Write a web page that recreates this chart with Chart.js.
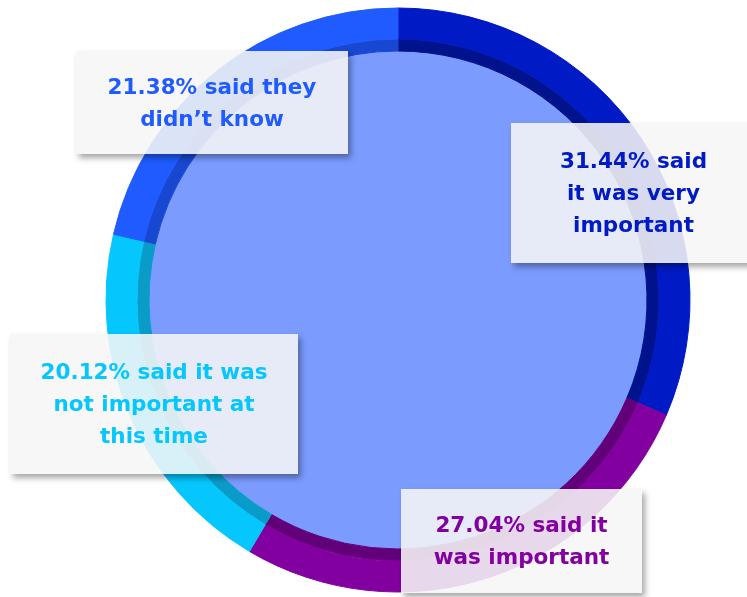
<!DOCTYPE html>
<html>
<head>
<meta charset="utf-8">
<script src="https://cdn.jsdelivr.net/npm/chart.js@4"></script>
<style>
  html, body { margin: 0; padding: 0; background: #fff; }
  #wrap { position: relative; width: 747px; height: 597px; overflow: hidden; }
  canvas { position: absolute; left: 0; top: 0; }
  .note {
    position: absolute;
    box-sizing: border-box;
    background: rgba(246, 246, 246, 0.88);
    box-shadow: 3px 4px 6px rgba(0, 0, 0, 0.35);
    font-family: "DejaVu Sans", sans-serif;
    font-weight: 700;
    font-size: 21.5px;
    line-height: 32px;
    text-align: center;
    display: flex;
    align-items: center;
    justify-content: center;
  }
</style>
</head>
<body>
<div id="wrap">
  <canvas id="ring" width="747" height="597"></canvas>
</div>
<script>
// answers, clockwise from 12 o'clock
const labels = ['said it was very important', 'said it was important', 'said it was not important at this time', "said they didn't know"];
const shares = [31.44, 27.04, 20.12, 21.38];
const ringColors = ['#001BC6', '#82009F', '#05C6FD', '#1F5BFF'];
const shadeColors = ['#00138C', '#62007A', '#0A9CC8', '#1848D2'];

// label boxes (text lines as shown on the picture)
const notes = [
  { lines: ['31.44% said', 'it was very', 'important'], color: ringColors[0], box: [511, 123, 245, 140] },
  { lines: ['27.04% said it', 'was important'], color: ringColors[1], box: [401, 489, 241, 104] },
  { lines: ['20.12% said it was', 'not important at', 'this time'], color: ringColors[2], box: [10, 334, 288, 140] },
  { lines: ['21.38% said they', 'didn\u2019t know'], color: ringColors[3], box: [76, 51, 272, 103] },
];

// fills the hole of the doughnut
const innerFill = {
  id: 'innerFill',
  beforeDatasetsDraw(chart) {
    const arc = chart.getDatasetMeta(1).data[0];
    if (!arc) return;
    const ctx = chart.ctx;
    ctx.save();
    ctx.beginPath();
    ctx.arc(arc.x, arc.y, arc.innerRadius + 0.5, 0, Math.PI * 2);
    ctx.fillStyle = '#7B9BFF';
    ctx.fill();
    ctx.restore();
  }
};

new Chart(document.querySelector('#ring').getContext('2d'), {
  type: 'doughnut',
  data: {
    labels: labels,
    datasets: [
      {
        data: shares,
        backgroundColor: ringColors,
        borderColor: ringColors,
        borderWidth: 1,
        weight: 31
      },
      {
        data: shares,
        backgroundColor: shadeColors,
        borderColor: shadeColors,
        borderWidth: 1,
        weight: 12
      }
    ]
  },
  options: {
    responsive: false,
    animation: false,
    radius: 292,
    cutout: '85.27%',
    layout: { padding: { left: 49, right: 0, top: 3, bottom: 0 } },
    plugins: {
      legend: { display: false },
      tooltip: { enabled: false }
    }
  },
  plugins: [innerFill]
});

const wrap = document.querySelector('#wrap');
notes.forEach(note => {
  const div = document.createElement('div');
  div.className = 'note';
  const [x, y, w, h] = note.box;
  div.style.left = x + 'px';
  div.style.top = y + 'px';
  div.style.width = w + 'px';
  div.style.height = h + 'px';
  div.style.color = note.color;
  div.innerHTML = '<div>' + note.lines.join('<br>') + '</div>';
  wrap.appendChild(div);
});
</script>
</body>
</html>
